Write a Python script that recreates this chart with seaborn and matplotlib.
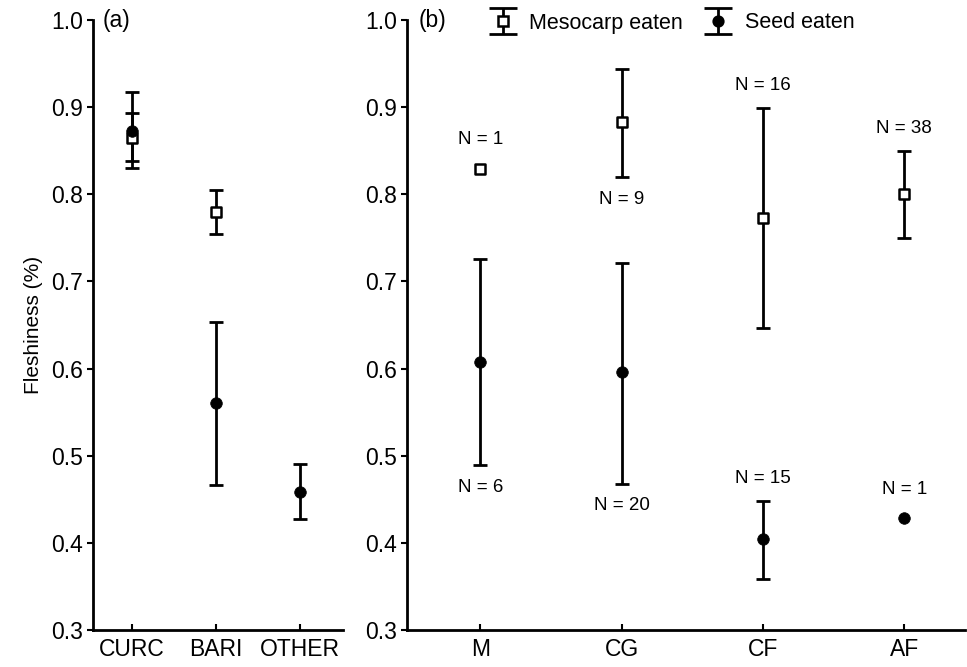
import numpy as np
import pandas as pd
import matplotlib
matplotlib.use("Agg")
import matplotlib.pyplot as plt
import seaborn as sns
from matplotlib.lines import Line2D
from matplotlib.collections import LineCollection
from matplotlib.container import ErrorbarContainer
from matplotlib.legend_handler import HandlerErrorbar

# ---- data -------------------------------------------------------------
groups_a = ["CURC", "BARI", "OTHER"]
meso_a = [0.865, 0.780, np.nan]
meso_a_low = [0.830, 0.755, np.nan]
meso_a_high = [0.917, 0.805, np.nan]
seed_a = [0.873, 0.560, 0.458]
seed_a_low = [0.838, 0.466, 0.427]
seed_a_high = [0.893, 0.654, 0.490]

groups_b = ["M", "CG", "CF", "AF"]
meso_b = [0.829, 0.883, 0.773, 0.800]
meso_b_low = [np.nan, 0.820, 0.647, 0.750]
meso_b_high = [np.nan, 0.944, 0.899, 0.850]
seed_b = [0.608, 0.596, 0.405, 0.428]
seed_b_low = [0.489, 0.468, 0.359, np.nan]
seed_b_high = [0.726, 0.721, 0.448, np.nan]
meso_b_n = [1, 9, 16, 38]
seed_b_n = [6, 20, 15, 1]
meso_b_side = ["above", "below", "above", "above"]
seed_b_side = ["below", "below", "above", "above"]

y_ticks = [0.3, 0.4, 0.5, 0.6, 0.7, 0.8, 0.9, 1.0]

# ---- style ------------------------------------------------------------
sns.set_style("ticks")
plt.rcParams["font.family"] = ["Liberation Sans", "DejaVu Sans"]
plt.rcParams.update({
    "axes.linewidth": 2.0,
    "text.color": "black",
    "axes.labelcolor": "black",
    "axes.edgecolor": "black",
    "xtick.color": "black",
    "ytick.color": "black",
})

BIG = 16.5
LW = 2.0
CAP = 5

fig = plt.figure(figsize=(9.67, 6.67), dpi=100)
W, H = 967, 667
y_top, y_bot = 20, 630
ax_a = fig.add_axes([93 / W, 1 - y_bot / H, (343 - 93) / W, (y_bot - y_top) / H])
ax_b = fig.add_axes([407 / W, 1 - y_bot / H, (965 - 407) / W, (y_bot - y_top) / H])


def draw_series(ax, groups, vals, low, high, kind):
    vals = np.asarray(vals, float)
    err = np.vstack([vals - np.asarray(low, float), np.asarray(high, float) - vals])
    ax.errorbar(groups, vals, yerr=err, fmt="none", ecolor="black",
                elinewidth=LW, capsize=CAP, capthick=LW, zorder=2)
    df = pd.DataFrame({"group": groups, "value": vals}).dropna()
    if kind == "meso":
        sns.scatterplot(data=df, x="group", y="value", marker="s", s=50,
                        color="white", edgecolor="black", linewidth=1.8,
                        ax=ax, zorder=3, legend=False)
    else:
        sns.scatterplot(data=df, x="group", y="value", marker="o", s=70,
                        color="black", edgecolor="black", linewidth=0.5,
                        ax=ax, zorder=4, legend=False)


# panel (a)
draw_series(ax_a, groups_a, seed_a, seed_a_low, seed_a_high, "seed")
draw_series(ax_a, groups_a, meso_a, meso_a_low, meso_a_high, "meso")
ax_a.set_xlim(-0.46, 2.51)

# panel (b)
draw_series(ax_b, groups_b, seed_b, seed_b_low, seed_b_high, "seed")
draw_series(ax_b, groups_b, meso_b, meso_b_low, meso_b_high, "meso")
ax_b.set_xlim(-0.52, 3.43)

# sample-size annotations
def annotate_n(ax, groups, vals, low, high, ns, sides):
    for i, (v, lo, hi, n, side) in enumerate(zip(vals, low, high, ns, sides)):
        if side == "above":
            ref = hi if not np.isnan(hi) else v
            dy = 16 if not np.isnan(hi) else 21
        else:
            ref = lo if not np.isnan(lo) else v
            dy = -16 if not np.isnan(lo) else -21
        ax.annotate(f"N = {n}", xy=(i, ref), xytext=(0, dy),
                    textcoords="offset points", ha="center", va="center",
                    fontsize=13.5)


annotate_n(ax_b, groups_b, meso_b, meso_b_low, meso_b_high, meso_b_n, meso_b_side)
annotate_n(ax_b, groups_b, seed_b, seed_b_low, seed_b_high, seed_b_n, seed_b_side)

for ax in (ax_a, ax_b):
    ax.set_ylim(0.3, 1.0)
    ax.set_yticks(y_ticks)
    ax.set_yticklabels([f"{t:.1f}" for t in y_ticks])
    ax.set_xlabel("")
    ax.set_ylabel("")
    sns.despine(ax=ax)
    ax.tick_params(axis="y", direction="out", length=4, width=1.5,
                   labelsize=BIG, pad=3)
    ax.tick_params(axis="x", direction="in", length=4, width=1.5,
                   labelsize=BIG, pad=6)
    for sp in ("left", "bottom"):
        ax.spines[sp].set_linewidth(2.0)

ax_a.set_ylabel("Fleshiness (%)", fontsize=BIG - 1.5, labelpad=6)
ax_a.text(0.04, 1.0, "(a)", transform=ax_a.transAxes, fontsize=BIG,
          ha="left", va="center")
ax_b.text(0.02, 1.0, "(b)", transform=ax_b.transAxes, fontsize=BIG,
          ha="left", va="center")

# legend with error-bar glyphs
def proxy(marker, face):
    line = Line2D([], [], marker=marker, markersize=7, markerfacecolor=face,
                  markeredgecolor="black", markeredgewidth=1.8,
                  linestyle="none", color="black")
    cap = Line2D([], [], marker="_", markersize=20, markeredgewidth=LW,
                 color="black", linestyle="none")
    bars = LineCollection([], colors="black", linewidths=LW)
    return ErrorbarContainer((line, (cap, cap), (bars,)),
                             has_xerr=False, has_yerr=True)


handles = [proxy("s", "white"), proxy("o", "black")]
ax_b.legend(handles, ["Mesocarp eaten", "Seed eaten"], ncol=2,
            loc="center left", bbox_to_anchor=(481 / W, 1 - 23 / H),
            bbox_transform=fig.transFigure, frameon=False, fontsize=BIG - 1,
            handlelength=2.0, handletextpad=0.25, columnspacing=0.6,
            borderpad=0, borderaxespad=0,
            handler_map={ErrorbarContainer: HandlerErrorbar(yerr_size=0.6)})

fig.savefig("out.png", dpi=100)
